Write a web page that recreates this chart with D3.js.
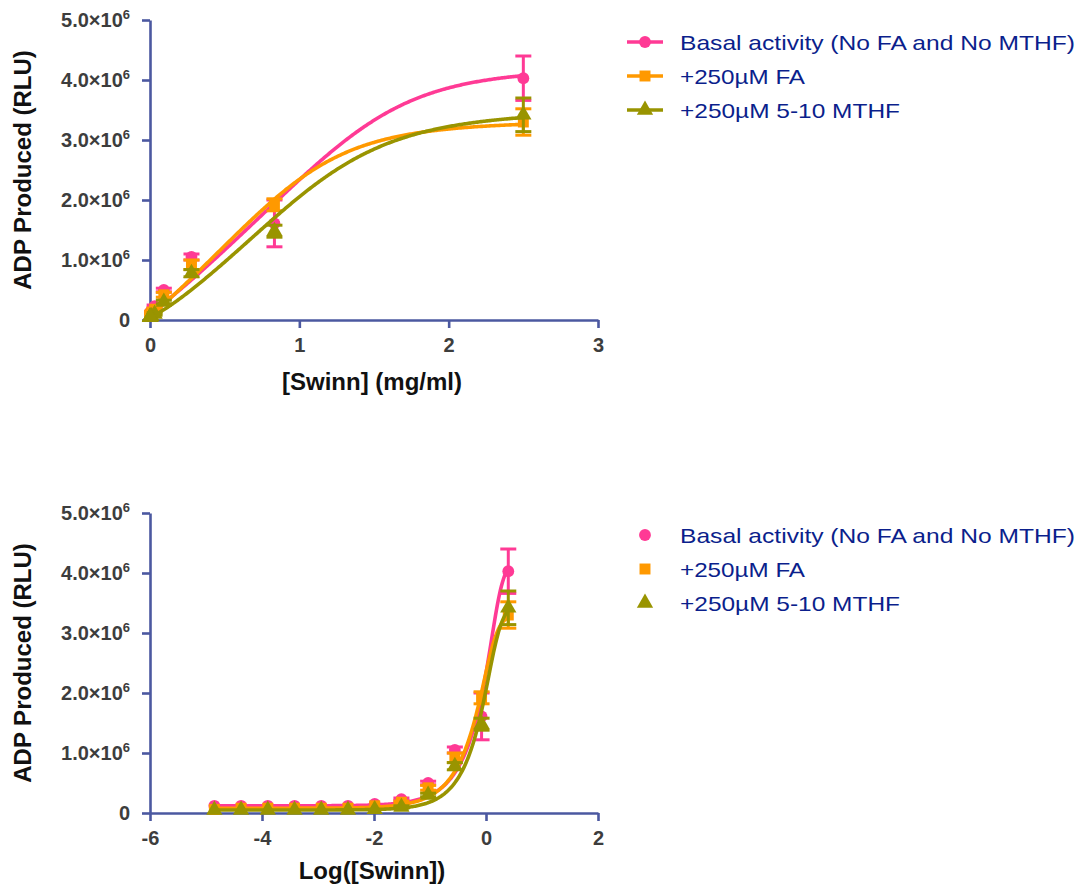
<!DOCTYPE html>
<html><head><meta charset="utf-8">
<script src="https://cdn.jsdelivr.net/npm/d3@7"></script>
<style>body{margin:0;background:#fff}svg{display:block}</style>
</head><body>
<svg id="chart" width="1083" height="888"></svg>
<script>
// ---- data ----
const concentrations = [2.5, 0.8333, 0.2778, 0.09259, 0.03086, 0.01029, 0.00343, 0.001143, 0.000381, 0.000127, 0.0000423, 0.0000141];
const seriesNames = ["Basal activity (No FA and No MTHF)", "+250\u00B5M FA", "+250\u00B5M 5-10 MTHF"];
const legendWidths = [395, 125, 220];
const basalMean = [4.03e6, 1.61e6, 1.05e6, 0.50e6, 0.23e6, 0.15e6, 0.12e6, 0.12e6, 0.12e6, 0.12e6, 0.12e6, 0.12e6];
const basalErr  = [0.37e6, 0.39e6, 0.05e6, 0.03e6, 0.02e6, 0, 0, 0, 0, 0, 0, 0];
const faMean    = [3.30e6, 1.92e6, 0.92e6, 0.42e6, 0.18e6, 0.12e6, 0.08e6, 0.08e6, 0.08e6, 0.08e6, 0.08e6, 0.06e6];
const faErr     = [0.22e6, 0.10e6, 0.08e6, 0.04e6, 0.02e6, 0, 0, 0, 0, 0, 0, 0];
const mthfMean  = [3.42e6, 1.48e6, 0.78e6, 0.30e6, 0.10e6, 0.06e6, 0.05e6, 0.05e6, 0.05e6, 0.05e6, 0.05e6, 0.05e6];
const mthfErr   = [0.28e6, 0.10e6, 0.06e6, 0.03e6, 0.02e6, 0, 0, 0, 0, 0, 0, 0];
// fitted dose-response curve parameters: [bottom, top, EC, hill, asymmetry]
const basalFit = [0.12e6, 4.20e6, 1.72, 5, 0.22];
const faFit    = [0.08e6, 3.32e6, 1.29, 4, 0.27];
const mthfFit  = [0.05e6, 3.50e6, 1.505, 4, 0.30];
const yTicks = [0, 1e6, 2e6, 3e6, 4e6, 5e6];
const xTicksLinear = [0, 1, 2, 3];
const xTicksLog = [-6, -4, -2, 0, 2];
const colors = ["#FF3A95", "#FF9900", "#999400"];
const shapes = ["circle", "square", "triangle"];

const series = [
  {name: seriesNames[0], mean: basalMean, err: basalErr, fit: basalFit, color: colors[0], shape: shapes[0], w: legendWidths[0]},
  {name: seriesNames[1], mean: faMean, err: faErr, fit: faFit, color: colors[1], shape: shapes[1], w: legendWidths[1]},
  {name: seriesNames[2], mean: mthfMean, err: mthfErr, fit: mthfFit, color: colors[2], shape: shapes[2], w: legendWidths[2]}
];

const AXIS = "#4B58A0";
const FONT = "'Liberation Sans', Arial, Helvetica, sans-serif";
const svg = d3.select("#chart");

function model(p, x) {
  if (x <= 0) return p[0];
  const z = Math.pow(p[2] / x, p[3]);
  return p[0] + (p[1] - p[0]) * Math.pow(1 + z, -p[4]);
}

function symbolFor(shape) {
  if (shape === "circle") return d3.symbol().type(d3.symbolCircle).size(110);
  if (shape === "square") return d3.symbol().type(d3.symbolSquare).size(120);
  return d3.symbol().type(d3.symbolTriangle).size(115);
}

function sciLabel(sel) {
  sel.each(function(d) {
    const t = d3.select(this);
    t.text(null);
    if (d === 0) { t.text("0"); return; }
    t.append("tspan").text((d / 1e6).toFixed(1) + "\u00D710");
    t.append("tspan").attr("dy", -8).attr("font-size", 13).text("6");
  });
}

function drawPanel(opts) {
  const g = svg.append("g");
  const x = d3.scaleLinear().domain(opts.xDomain).range([150, 598]);
  const y = d3.scaleLinear().domain([0, 5e6]).range([opts.y0, opts.y0 - 300]);

  const xa = g.append("g").attr("transform", `translate(0,${opts.y0})`)
    .call(d3.axisBottom(x).tickValues(opts.xTicks).tickSize(8).tickSizeOuter(0).tickPadding(12)
      .tickFormat(d => d3.format("d")(d).replace("\u2212", "-")));
  const ya = g.append("g").attr("transform", `translate(150,0)`)
    .call(d3.axisLeft(y).tickValues(yTicks).tickSize(8).tickSizeOuter(0).tickPadding(12));
  ya.selectAll(".tick text").call(sciLabel);
  [xa, ya].forEach(a => {
    a.select(".domain").attr("stroke", AXIS).attr("stroke-width", 2.6);
    a.selectAll(".tick line").attr("stroke", AXIS).attr("stroke-width", 2.6);
    a.selectAll(".tick text").attr("fill", "#3d3d3d").attr("font-family", FONT)
      .attr("font-weight", "bold").attr("font-size", 20);
  });
  xa.selectAll(".tick text").attr("dy", "0.62em");

  g.append("text").attr("x", 372).attr("y", opts.y0 + opts.xTitleDy).attr("text-anchor", "middle")
    .attr("font-family", FONT).attr("font-weight", "bold").attr("font-size", 24).attr("fill", "#111")
    .text(opts.xTitle);
  g.append("text").attr("transform", `translate(31,${opts.y0 - 150}) rotate(-90)`).attr("text-anchor", "middle")
    .attr("font-family", FONT).attr("font-weight", "bold").attr("font-size", 24).attr("fill", "#111")
    .text("ADP Produced (RLU)");

  const xv = opts.xMap;
  series.forEach(s => {
    const pts = d3.range(0, 301).map(i => {
      const u = opts.curveFrom + (opts.curveTo - opts.curveFrom) * i / 300;
      return [u, model(s.fit, opts.inv(u))];
    });
    g.append("path").datum(pts).attr("fill", "none").attr("stroke", s.color).attr("stroke-width", 3.6)
      .attr("d", d3.line().x(d => x(d[0])).y(d => y(d[1])));
    concentrations.forEach((c, i) => {
      const e = s.err[i];
      if (!e) return;
      const cx = x(xv(c));
      const eg = g.append("g").attr("stroke", s.color).attr("stroke-width", 3);
      eg.append("line").attr("x1", cx).attr("x2", cx).attr("y1", y(s.mean[i] - e)).attr("y2", y(s.mean[i] + e));
      [s.mean[i] - e, s.mean[i] + e].forEach(v =>
        eg.append("line").attr("x1", cx - 8).attr("x2", cx + 8).attr("y1", y(v)).attr("y2", y(v)));
    });
    concentrations.forEach((c, i) => {
      g.append("path").attr("d", symbolFor(s.shape)())
        .attr("transform", `translate(${x(xv(c))},${y(s.mean[i])})`).attr("fill", s.color);
    });
  });

  const lg = g.append("g");
  series.forEach((s, i) => {
    const ly = opts.legendY + i * 34;
    if (opts.legendLine) {
      lg.append("line").attr("x1", 627).attr("x2", 663).attr("y1", ly).attr("y2", ly)
        .attr("stroke", s.color).attr("stroke-width", 3.6);
    }
    lg.append("path").attr("d", symbolFor(s.shape)()).attr("transform", `translate(645,${ly})`).attr("fill", s.color);
    lg.append("text").attr("x", 680).attr("y", ly + 7.5).attr("font-family", FONT).attr("font-size", 21)
      .attr("textLength", s.w).attr("lengthAdjust", "spacingAndGlyphs")
      .attr("fill", "#0B1F8C").text(s.name);
  });
}

drawPanel({
  y0: 320, xDomain: [0, 3], xTicks: xTicksLinear, xTitle: "[Swinn] (mg/ml)", xTitleDy: 70,
  xMap: c => c, inv: u => u, curveFrom: 0, curveTo: 2.5, legendY: 42, legendLine: true
});
drawPanel({
  y0: 813, xDomain: [-6, 2], xTicks: xTicksLog, xTitle: "Log([Swinn])", xTitleDy: 66,
  xMap: c => Math.log10(c), inv: u => Math.pow(10, u),
  curveFrom: Math.log10(concentrations[11]), curveTo: Math.log10(concentrations[0]), legendY: 535, legendLine: false
});
</script>
</body></html>
